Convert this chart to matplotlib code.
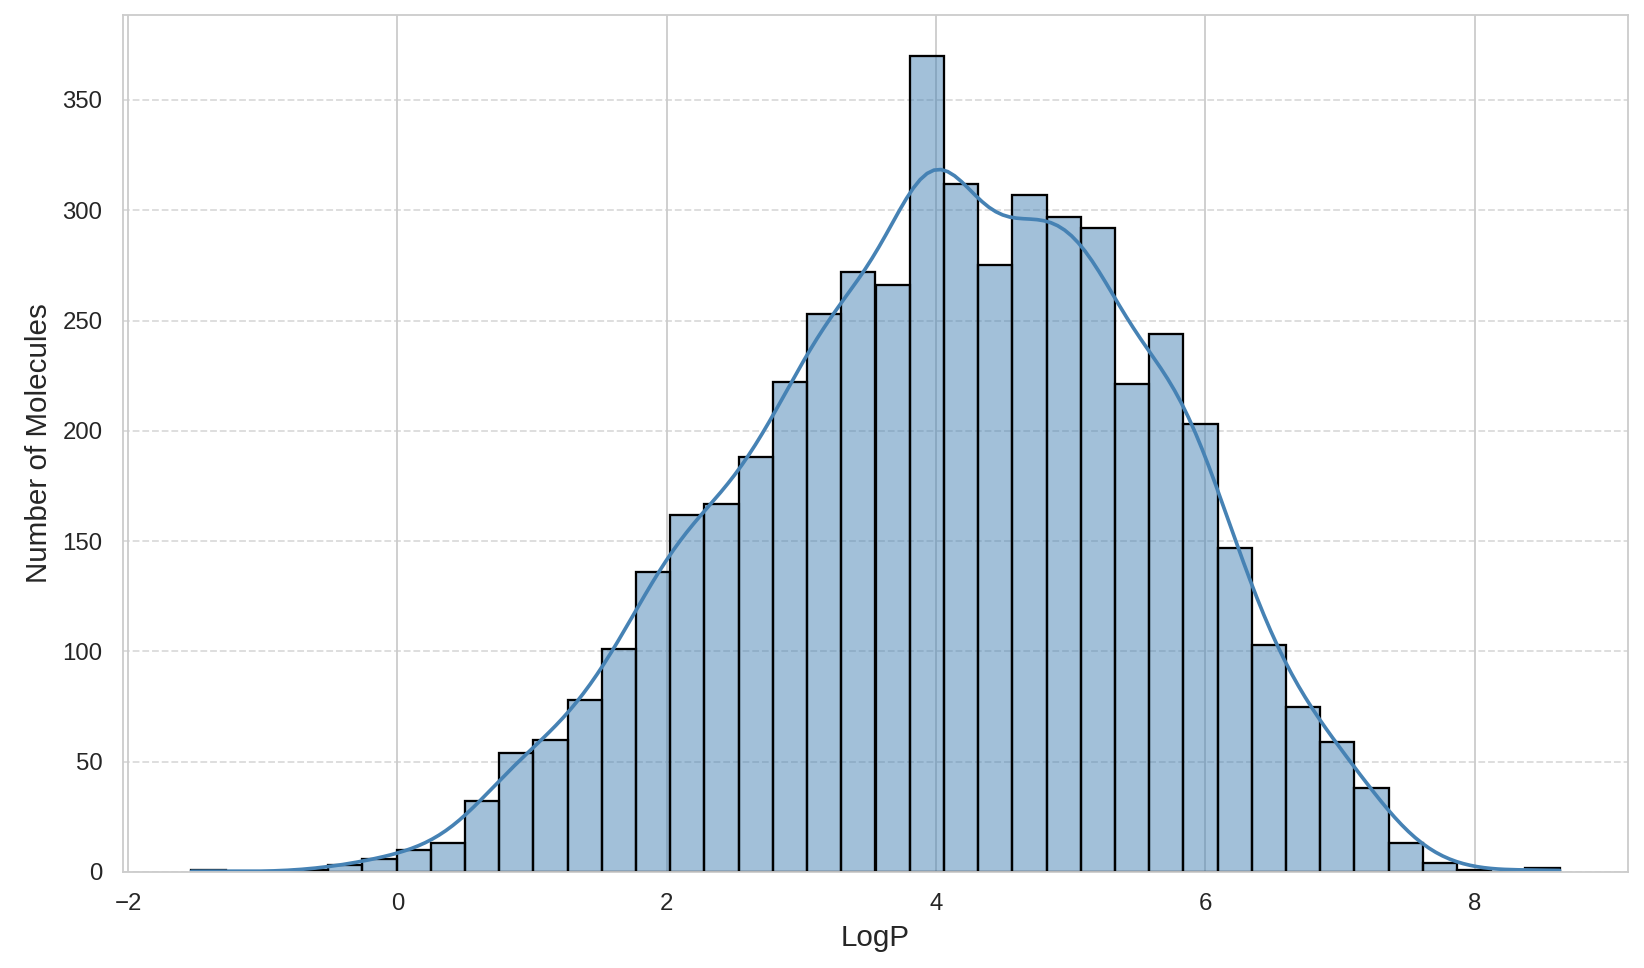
import numpy as np
import matplotlib
matplotlib.use("Agg")
import matplotlib.pyplot as plt
import seaborn as sns

# ---- data ----
logp_min = -1.53
logp_max = 8.63
n_bins = 40
counts = [1, 0, 0, 1, 3, 6, 10, 13, 32, 54,
          60, 78, 101, 136, 162, 167, 188, 222, 253, 272,
          266, 370, 312, 275, 307, 297, 292, 221, 244, 203,
          147, 103, 75, 59, 38, 13, 4, 1, 0, 2]
x_label = "LogP"
y_label = "Number of Molecules"

sns.set_style("whitegrid")
plt.rcParams['font.family'] = ['Liberation Sans', 'DejaVu Sans']

edges = np.linspace(logp_min, logp_max, n_bins + 1)
centers = (edges[:-1] + edges[1:]) / 2
samples = np.repeat(centers, counts)

fig = plt.figure(figsize=(10, 968 / 164.4), dpi=164.4)
ax = fig.add_axes([123 / 1644, 1 - 872 / 968, (1628 - 123) / 1644, (872 - 15) / 968])

sns.histplot(samples, bins=edges, kde=True, color="steelblue", alpha=0.5,
             edgecolor="black", linewidth=1,
             kde_kws=dict(cut=1, clip=(logp_min, logp_max)),
             line_kws=dict(linewidth=1.6), ax=ax)

ax.grid(axis='y', linestyle='--', alpha=0.7)
ax.set_xlabel(x_label, fontsize=13)
ax.set_ylabel(y_label, fontsize=13)
ax.tick_params(labelsize=10.5, length=0, pad=9)

fig.savefig("out.png", dpi=164.4)
